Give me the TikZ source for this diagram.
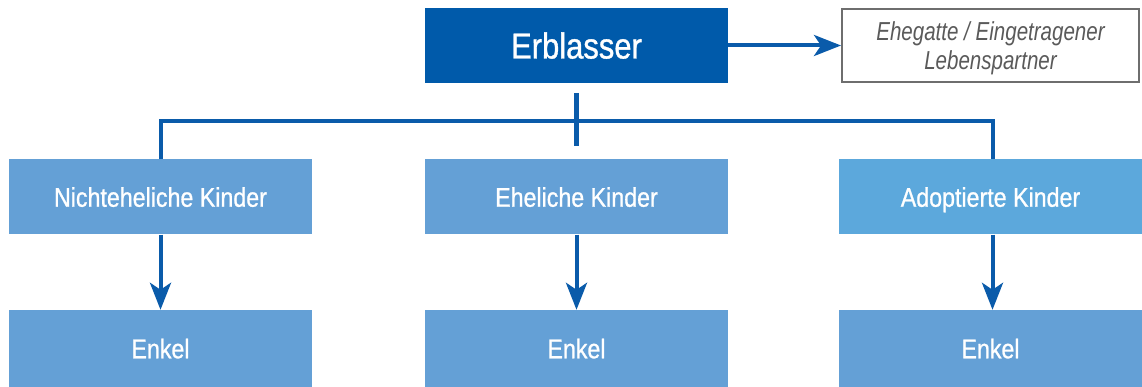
\documentclass[tikz,border=0pt]{standalone}
\usepackage{fontspec}
\setmainfont[FakeStretch=0.87]{Liberation Sans}
\newfontfamily\boxfont[FakeStretch=0.86,FakeBold=0.9]{Liberation Sans}
\newfontfamily\spfont[FakeStretch=0.79]{Liberation Sans}
\usetikzlibrary{arrows.meta,calc}
\definecolor{dblue}{HTML}{005AAA}
\definecolor{lblue}{HTML}{64A0D6}
\definecolor{lblueb}{HTML}{5CA8DC}
\definecolor{lineblue}{HTML}{0A5BAA}
\definecolor{gborder}{HTML}{6E6E6E}
\definecolor{gtext}{HTML}{5A5A5A}
\begin{document}
\begin{tikzpicture}[x=1pt,y=-1pt,
  box/.style={rectangle,inner sep=0pt,minimum width=303pt,minimum height=75pt,text=white,align=center},
  kid/.style={box,fill=lblue,font=\boxfont\fontsize{27}{30}\selectfont,text height=19.5pt,text depth=0pt},
  conn/.style={draw=lineblue,line width=4pt},
  arr/.style={conn,-{Stealth[length=27pt,width=21pt,inset=7pt]}}]
\useasboundingbox (0,0) rectangle (1142,387);
\node[box,fill=dblue,font=\boxfont\fontsize{36}{40}\selectfont,text height=26pt,text depth=0pt] (erb) at (576.5,45.5) {Erblasser};
\node[rectangle,draw=gborder,line width=2pt,fill=white,minimum width=297pt,minimum height=73pt,inner sep=0pt,align=center,text=gtext,text depth=0pt,font=\spfont\fontsize{26}{28.5}\selectfont\itshape] (sp) at (990.5,45.5) {Ehegatte / Eingetragener\\Lebenspartner};
\node[kid] (k1) at (160.5,197) {Nichteheliche Kinder};
\node[kid] (k2) at (576.5,197) {Eheliche Kinder};
\node[kid,fill=lblueb] (k3) at (990.5,197) {Adoptierte Kinder};
\node[kid,minimum height=77pt] (e1) at (160.5,348.5) {Enkel};
\node[kid,minimum height=77pt] (e2) at (576.5,348.5) {Enkel};
\node[kid,minimum height=77pt] (e3) at (990.5,348.5) {Enkel};
\coordinate (bar) at (576.5,121);
\coordinate (stubtop) at (576.5,93);
\coordinate (stubbot) at (576.5,146);
\draw[arr] (erb.east) -- (sp.west);
\draw[conn] (k1.north) |- (bar) -| ([xshift=2pt]k3.north);
\draw[conn,line width=4.5pt] (stubtop) -- (stubbot);
\draw[arr] (k1.south) -- (e1.north);
\draw[arr] (k2.south) -- (e2.north);
\draw[arr] ([xshift=2pt]k3.south) -- ([xshift=2pt]e3.north);
\end{tikzpicture}
\end{document}
